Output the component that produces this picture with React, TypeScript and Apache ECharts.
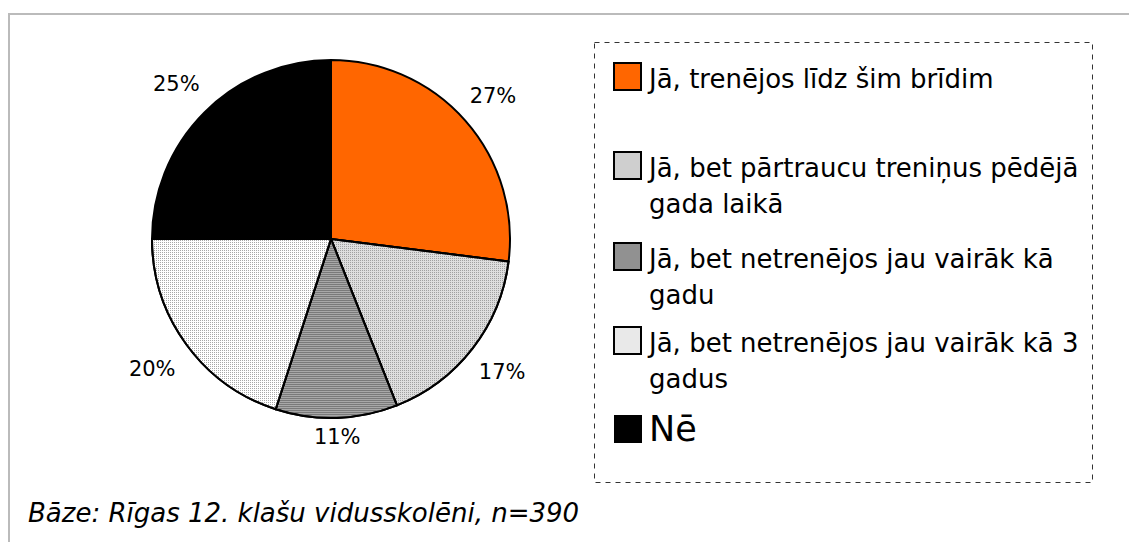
import React, { useEffect, useRef } from 'react';
import * as echarts from 'echarts';

const categories = [
  'Jā, trenējos līdz šim brīdim',
  'Jā, bet pārtraucu treniņus pēdējā gada laikā',
  'Jā, bet netrenējos jau vairāk kā gadu',
  'Jā, bet netrenējos jau vairāk kā 3 gadus',
  'Nē',
];
const legendLabels = [
  'Jā, trenējos līdz šim brīdim',
  'Jā, bet pārtraucu treniņus pēdējā\ngada laikā',
  'Jā, bet netrenējos jau vairāk kā\ngadu',
  'Jā, bet netrenējos jau vairāk kā 3\ngadus',
  'Nē',
];
const values = [27, 17, 11, 20, 25];
const footnote = 'Bāze: Rīgas 12. klašu vidusskolēni, n=390';

const FONT = '"DejaVu Sans", Verdana, sans-serif';

const sliceStyles: any[] = [
  { color: '#ff6600' },
  {
    color: '#dedede',
    decal: { symbol: 'rect', symbolSize: 1, color: '#a0a0a0', dashArrayX: [1, 1], dashArrayY: [1, 1], rotation: 0 },
  },
  {
    color: '#a8a8a8',
    decal: { symbol: 'rect', symbolSize: 1, color: '#7a7a7a', dashArrayX: [1, 0], dashArrayY: [1, 1], rotation: 0 },
  },
  {
    color: '#ffffff',
    decal: { symbol: 'rect', symbolSize: 1, color: '#a8a8a8', dashArrayX: [1, 1], dashArrayY: [1, 1], rotation: 0 },
  },
  { color: '#000000' },
];
const iconFills = ['#ff6600', '#cfcfcf', '#919191', '#e9e9e9', '#000000'];

export default function App() {
  const ref = useRef<HTMLDivElement>(null);
  useEffect(() => {
    const chart = echarts.init(ref.current!, null, { renderer: 'svg' });
    const cx = 331, cy = 239, r = 179;
    const total = values.reduce((a, b) => a + b, 0);
    const mids: number[] = [];
    let acc = 0;
    values.forEach((v) => {
      mids.push(90 - ((acc + v / 2) / total) * 360);
      acc += v;
    });

    const iconTop = [63, 152, 243, 327, 415];
    const iconSize = 27;
    const legendGraphics: any[] = [];
    categories.forEach((_, i) => {
      const big = i === categories.length - 1;
      const size = big ? 28 : iconSize;
      legendGraphics.push({
        type: 'rect',
        shape: { x: 614, y: iconTop[i], width: size, height: size },
        style: { fill: iconFills[i], stroke: '#000', lineWidth: big ? 0 : 2 },
      });
      const fs = big ? 35 : 26;
      const lh = 36;
      legendGraphics.push({
        type: 'text',
        style: {
          text: legendLabels[i],
          x: 649,
          y: iconTop[i] + size / 2 - lh / 2 + (big ? 0 : 2),
          font: `${fs}px ${FONT}`,
          fill: '#000',
          lineHeight: lh,
          verticalAlign: 'top',
          align: 'left',
        },
      });
    });

    chart.setOption({
      animation: false,
      backgroundColor: '#ffffff',
      graphic: [
        {
          type: 'line',
          shape: { x1: 8, y1: 14, x2: 1129, y2: 14 },
          style: { stroke: '#bbbbbb', lineWidth: 2 },
        },
        {
          type: 'line',
          shape: { x1: 9, y1: 14, x2: 9, y2: 542 },
          style: { stroke: '#bbbbbb', lineWidth: 2 },
        },
        {
          type: 'rect',
          shape: { x: 594.5, y: 42.5, width: 498, height: 440 },
          style: { fill: 'none', stroke: '#333', lineWidth: 1, lineDash: [5, 5] },
        },
        ...legendGraphics,
        {
          type: 'text',
          style: {
            text: footnote,
            x: 28,
            y: 513,
            font: `italic 26px ${FONT}`,
            fill: '#000',
            verticalAlign: 'middle',
          },
        },
      ],
      series: [
        {
          type: 'pie',
          center: [cx, cy],
          radius: [0, r],
          startAngle: 90,
          clockwise: true,
          silent: true,
          itemStyle: { borderColor: '#000', borderWidth: 2 },
          label: {
            show: true,
            position: 'outside',
            fontSize: 21,
            fontFamily: FONT,
            color: '#000',
            formatter: (p: any) => `${p.value}%`,
          },
          labelLine: { show: false },
          labelLayout: (params: any) => {
            const i = params.dataIndex;
            const a = (mids[i] * Math.PI) / 180;
            const w = params.labelRect.width;
            const h = params.labelRect.height;
            const left = Math.cos(a) < -0.1 ? 1 : 0;
            const d = r + 8 + Math.abs(Math.cos(a)) * (w / 2 + 6 + left * 5) + (Math.abs(Math.sin(a)) * h) / 2;
            return {
              x: cx + d * Math.cos(a),
              y: cy - d * Math.sin(a),
              align: 'center',
              verticalAlign: 'middle',
            };
          },
          data: categories.map((name, i) => ({
            name,
            value: values[i],
            itemStyle: sliceStyles[i],
          })),
        },
      ],
    });
    return () => chart.dispose();
  }, []);

  return (
    <div
      ref={ref}
      style={{ position: 'absolute', left: 0, top: 0, width: 1129, height: 542 }}
    />
  );
}
